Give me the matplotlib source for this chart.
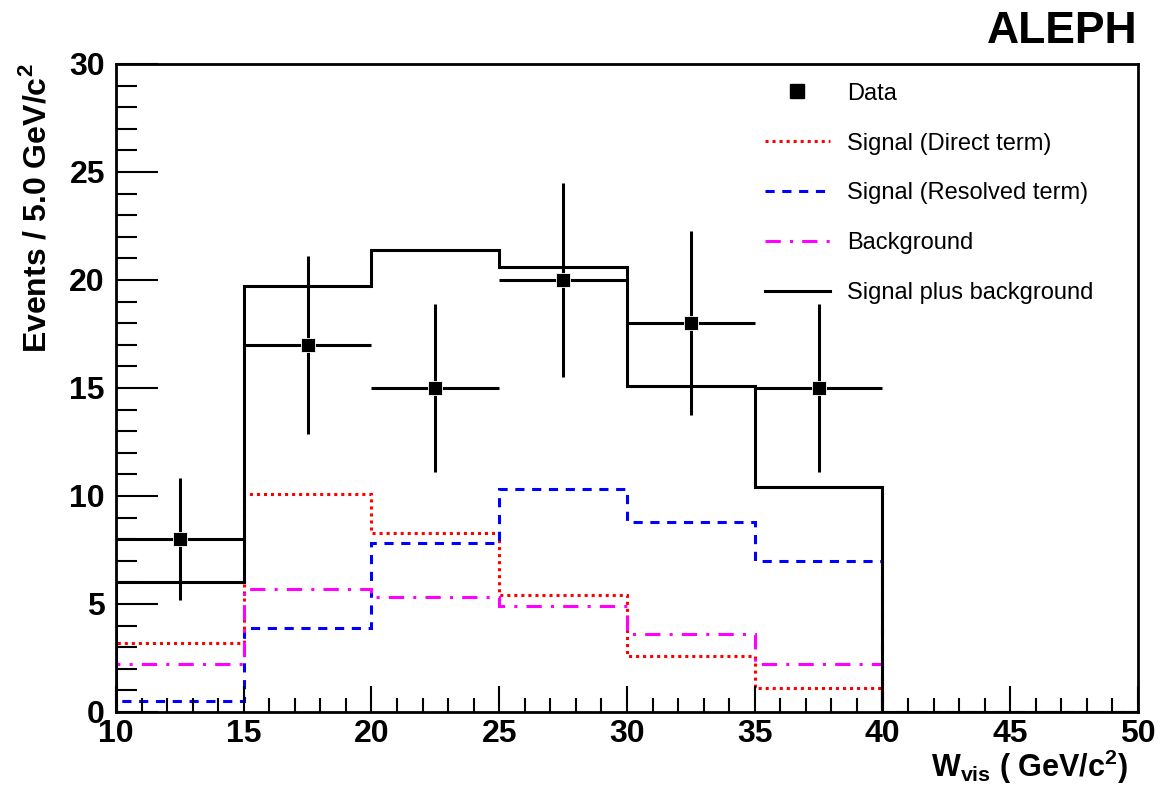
import numpy as np
import matplotlib
matplotlib.use('Agg')
import matplotlib.pyplot as plt
from matplotlib.lines import Line2D
from matplotlib.ticker import MultipleLocator

plt.rcParams['font.family'] = 'Liberation Sans'
plt.rcParams['font.weight'] = 'bold'
plt.rcParams['mathtext.fontset'] = 'custom'
plt.rcParams['mathtext.rm'] = 'Liberation Sans'
plt.rcParams['mathtext.bf'] = 'Liberation Sans:bold'

# bin edges in W_vis (GeV/c^2)
edges = [10, 15, 20, 25, 30, 35, 40, 45, 50]

# MC predictions per bin
direct = [3.2, 10.1, 8.3, 5.4, 2.6, 1.1, 0, 0]
resolved = [0.5, 3.9, 7.8, 10.3, 8.8, 7.0, 0, 0]
background = [2.2, 5.7, 5.3, 4.9, 3.6, 2.2, 0, 0]
total = [6.0, 19.7, 21.4, 20.6, 15.1, 10.4, 0, 0]

# observed events
data_x = [12.5, 17.5, 22.5, 27.5, 32.5, 37.5]
data_y = [8, 17, 15, 20, 18, 15]

fig = plt.figure(figsize=(11.6, 7.89), dpi=100)
ax = fig.add_axes([0.1, 0.0976, 0.881, 0.8214])

lw = 2.2
dot = (0, (1, 1.3))
dash = (0, (3, 2.5))
dashdot = (0, (5, 3, 1, 3))
ax.stairs(direct, edges, color='red', lw=lw, linestyle=dot)
ax.stairs(resolved, edges, color='blue', lw=lw, linestyle=dash)
ax.stairs(background, edges, color='magenta', lw=lw, linestyle=dashdot)
ax.stairs(total, edges, color='black', lw=lw)

err = np.sqrt(data_y)
ax.errorbar(data_x, data_y, yerr=err, xerr=2.5, fmt='s', color='black',
            ms=10, elinewidth=2.2, capsize=0, mec='white', mew=0.6)

ax.set_xlim(10, 50)
ax.set_ylim(0, 30)
ax.xaxis.set_major_locator(MultipleLocator(5))
ax.xaxis.set_minor_locator(MultipleLocator(1))
ax.yaxis.set_major_locator(MultipleLocator(5))
ax.yaxis.set_minor_locator(MultipleLocator(1))
ax.tick_params(axis='both', which='both', direction='in', labelsize=23)
ax.tick_params(axis='y', which='major', length=30, width=1.5, pad=8)
ax.tick_params(axis='y', which='minor', length=15, width=1.5)
ax.tick_params(axis='x', which='major', length=19, width=1.5, pad=5)
ax.tick_params(axis='x', which='minor', length=10, width=1.5)
for s in ax.spines.values():
    s.set_linewidth(2)

ax.set_ylabel(r'Events / 5.0 GeV/c$^{\mathbf{2}}$', fontsize=23, fontweight='bold')
ax.yaxis.set_label_coords(-0.062, 1.0)
ax.yaxis.label.set_ha('right')
ax.set_xlabel(r'W$_{\mathbf{vis}}$ ( GeV/c$^{\mathbf{2}}$)', fontsize=22, fontweight='bold')
ax.xaxis.set_label_coords(0.99, -0.1)
ax.xaxis.label.set_ha('right')
ax.xaxis.label.set_va('baseline')

fig.text(0.981, 0.9455, 'ALEPH', fontsize=32, fontweight='bold', ha='right', va='baseline')

handles = [
    Line2D([], [], color='black', marker='s', ms=10, linestyle='none'),
    Line2D([], [], color='red', lw=lw, linestyle=dot),
    Line2D([], [], color='blue', lw=lw, linestyle=dash),
    Line2D([], [], color='magenta', lw=lw, linestyle=dashdot),
    Line2D([], [], color='black', lw=lw),
]
labels = ['Data', 'Signal (Direct term)', 'Signal (Resolved term)',
          'Background', 'Signal plus background']
leg = ax.legend(handles, labels, loc='upper left', bbox_to_anchor=(0.635, 0.971),
                frameon=False, handlelength=2.75, handletextpad=0.72,
                borderpad=0, borderaxespad=0, labelspacing=1.18,
                prop={'family': 'Liberation Sans', 'weight': 'normal', 'size': 17})

fig.savefig('out.png', dpi=100)
